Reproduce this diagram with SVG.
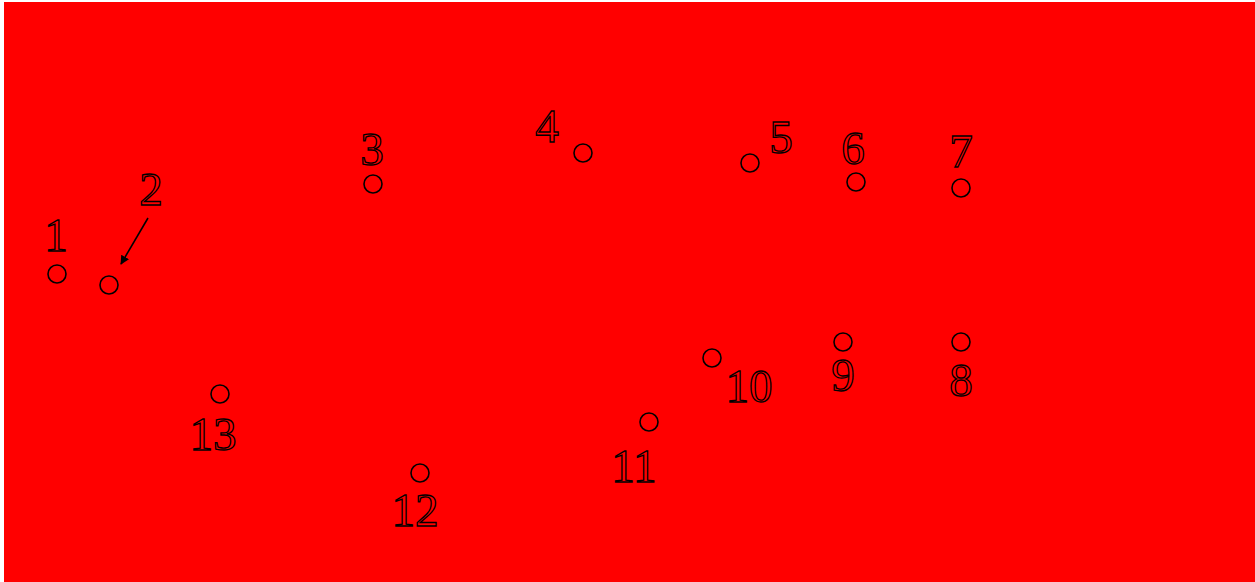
<svg xmlns="http://www.w3.org/2000/svg" width="1255" height="582" viewBox="0 0 1255 582">
<style>
.bg{fill:#ff0000}
.pt{fill:none;stroke:#000;stroke-width:1.6}
.lb{font-family:"Liberation Serif","Times New Roman",serif;font-size:47px;fill:none;stroke:#000;stroke-width:1.3;text-anchor:middle}
.cn{stroke:#000;stroke-width:1.6;fill:none}
</style>
<defs>
<marker id="ah" viewBox="0 0 10 10" refX="9" refY="5" markerWidth="9" markerHeight="9" markerUnits="userSpaceOnUse" orient="auto">
<path d="M0,0 L10,5 L0,10 z" fill="#000"/>
</marker>
</defs>
<rect x="0" y="0" width="1255" height="582" fill="#fff"/>
<rect class="bg" x="4" y="2" width="1251" height="580"/>
<g id="connectors">
<line class="cn" x1="148" y1="218" x2="121" y2="264" marker-end="url(#ah)"/>
</g>
<g id="n1"><circle class="pt" cx="57" cy="274" r="9"/><text class="lb" x="56" y="251">1</text></g>
<g id="n2"><circle class="pt" cx="109" cy="285" r="9"/><text class="lb" x="151" y="205">2</text></g>
<g id="n3"><circle class="pt" cx="373" cy="184" r="9"/><text class="lb" x="372" y="165">3</text></g>
<g id="n4"><circle class="pt" cx="583" cy="153" r="9"/><text class="lb" x="547" y="142">4</text></g>
<g id="n5"><circle class="pt" cx="750" cy="163" r="9"/><text class="lb" x="781" y="153">5</text></g>
<g id="n6"><circle class="pt" cx="856" cy="182" r="9"/><text class="lb" x="853" y="164">6</text></g>
<g id="n7"><circle class="pt" cx="961" cy="188" r="9"/><text class="lb" x="961" y="167">7</text></g>
<g id="n8"><circle class="pt" cx="961" cy="342" r="9"/><text class="lb" x="961" y="396">8</text></g>
<g id="n9"><circle class="pt" cx="843" cy="342" r="9"/><text class="lb" x="843" y="391">9</text></g>
<g id="n10"><circle class="pt" cx="712" cy="358" r="9"/><text class="lb" x="749" y="402">10</text></g>
<g id="n11"><circle class="pt" cx="649" cy="422" r="9"/><text class="lb" x="634" y="482">11</text></g>
<g id="n12"><circle class="pt" cx="420" cy="473" r="9"/><text class="lb" x="415" y="526">12</text></g>
<g id="n13"><circle class="pt" cx="220" cy="394" r="9"/><text class="lb" x="213" y="450">13</text></g>
</svg>
